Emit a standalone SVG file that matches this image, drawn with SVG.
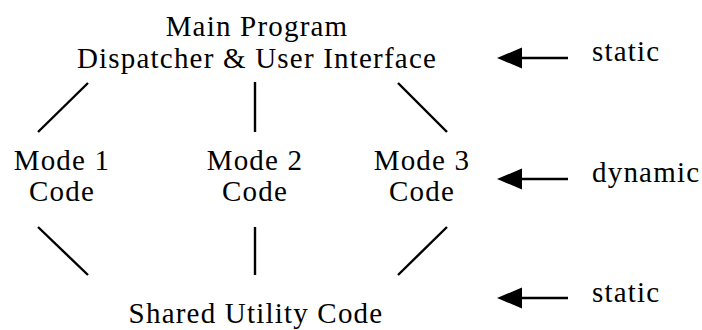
<svg xmlns="http://www.w3.org/2000/svg" width="702" height="330" viewBox="0 0 702 330">
<defs>
<style>
text{font-family:"Liberation Serif","Times New Roman",serif;font-size:29px;letter-spacing:1.2px;fill:#000}
.c{text-anchor:middle}
.ln{stroke:#000;stroke-width:2.4;fill:none}
</style>
</defs>
<rect width="702" height="330" fill="#fff"/>
<g id="main"><text class="c" x="257" y="36">Main Program</text><text class="c" x="257" y="68">Dispatcher &amp; User Interface</text></g>
<g id="mode1"><text class="c" x="62" y="170">Mode 1</text><text class="c" x="62" y="201">Code</text></g>
<g id="mode2"><text class="c" x="255" y="170">Mode 2</text><text class="c" x="255" y="201">Code</text></g>
<g id="mode3"><text class="c" x="422" y="170">Mode 3</text><text class="c" x="422" y="201">Code</text></g>
<g id="shared"><text class="c" x="256" y="323">Shared Utility Code</text></g>
<g id="labels"><text x="592" y="61">static</text><text x="592" y="182">dynamic</text><text x="592" y="302">static</text></g>
<g id="connectors">
<line class="ln" x1="88" y1="83" x2="38" y2="132"/>
<line class="ln" x1="255" y1="82" x2="255" y2="132"/>
<line class="ln" x1="398" y1="83" x2="447" y2="132"/>
<line class="ln" x1="38" y1="227" x2="88" y2="275"/>
<line class="ln" x1="255" y1="227" x2="255" y2="275"/>
<line class="ln" x1="447" y1="227" x2="398" y2="275"/>
<path d="M497,58 L522,47.5 L522,68.5 Z"/>
<line class="ln" x1="520" y1="58" x2="568" y2="58"/>
<path d="M497,179 L522,168.5 L522,189.5 Z"/>
<line class="ln" x1="520" y1="179" x2="568" y2="179"/>
<path d="M497,298 L522,287.5 L522,308.5 Z"/>
<line class="ln" x1="520" y1="298" x2="568" y2="298"/>
</g>
</svg>
